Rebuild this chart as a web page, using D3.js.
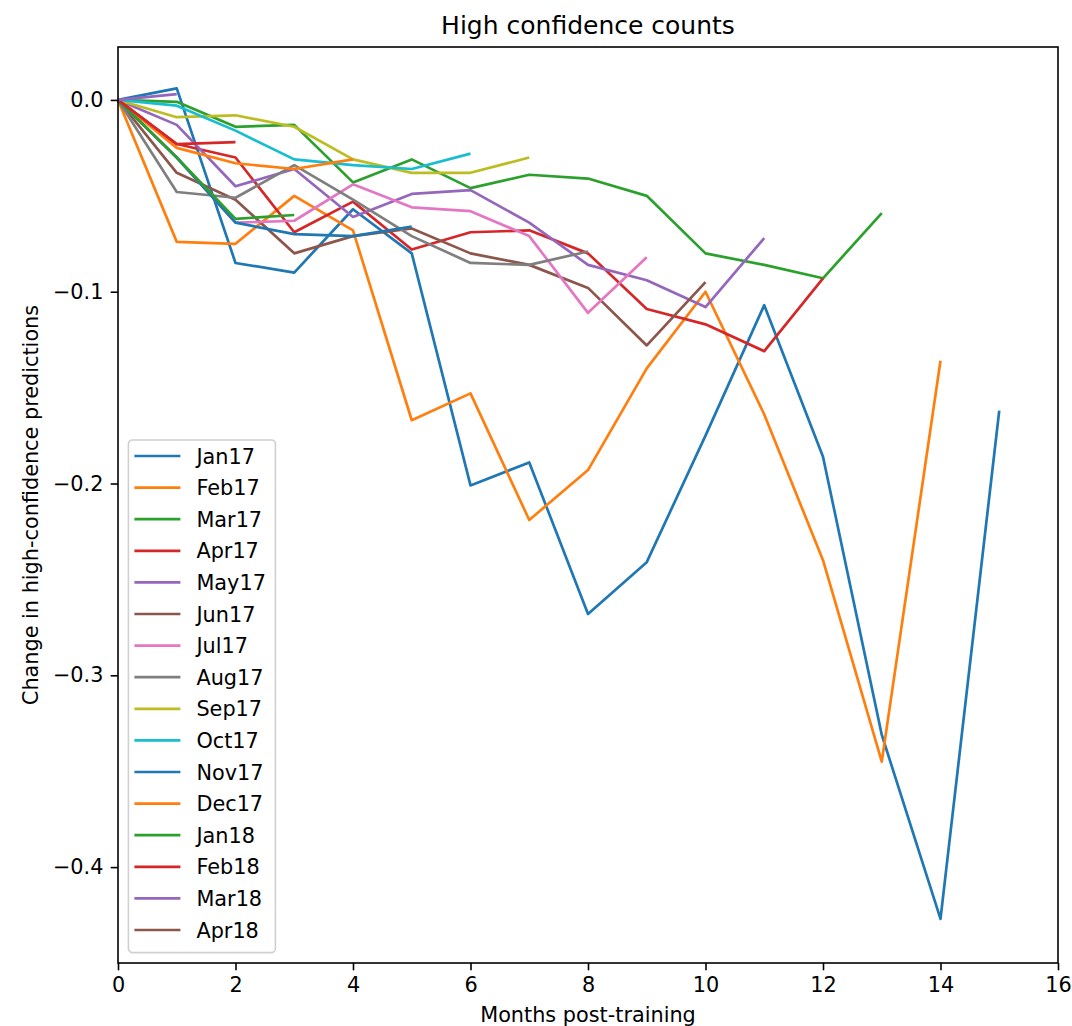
<!DOCTYPE html>
<html>
<head>
<meta charset="utf-8">
<script src="https://cdn.jsdelivr.net/npm/d3@7"></script>
<style>
  html, body { margin: 0; padding: 0; background: #fff; }
  svg { display: block; }
  text { font-family: "DejaVu Sans", sans-serif; fill: #000; }
</style>
</head>
<body>
<div id="chart"></div>
<script>
// ---- data ----
const seriesNames = ["Jan17","Feb17","Mar17","Apr17","May17","Jun17","Jul17","Aug17",
                     "Sep17","Oct17","Nov17","Dec17","Jan18","Feb18","Mar18","Apr18"];
const jan17 = [0, 0.006, -0.085, -0.090, -0.057, -0.080, -0.201, -0.189, -0.268, -0.241, -0.175, -0.107, -0.186, -0.331, -0.427, -0.162];
const feb17 = [0, -0.074, -0.075, -0.050, -0.068, -0.167, -0.153, -0.219, -0.193, -0.140, -0.100, -0.164, -0.240, -0.345, -0.136];
const mar17 = [0, -0.001, -0.014, -0.013, -0.043, -0.031, -0.046, -0.039, -0.041, -0.050, -0.080, -0.086, -0.093, -0.059];
const apr17 = [0, -0.023, -0.030, -0.069, -0.053, -0.078, -0.069, -0.068, -0.080, -0.109, -0.117, -0.131, -0.093];
const may17 = [0, -0.013, -0.045, -0.036, -0.061, -0.049, -0.047, -0.064, -0.086, -0.094, -0.108, -0.072];
const jun17 = [0, -0.038, -0.052, -0.080, -0.071, -0.067, -0.080, -0.086, -0.098, -0.128, -0.095];
const jul17 = [0, -0.030, -0.064, -0.063, -0.044, -0.056, -0.058, -0.071, -0.111, -0.082];
const aug17 = [0, -0.048, -0.051, -0.034, -0.052, -0.071, -0.085, -0.086, -0.079];
const sep17 = [0, -0.009, -0.008, -0.014, -0.031, -0.038, -0.038, -0.030];
const oct17 = [0, -0.003, -0.016, -0.031, -0.034, -0.036, -0.028];
const nov17 = [0, -0.030, -0.064, -0.070, -0.071, -0.066];
const dec17 = [0, -0.025, -0.033, -0.036, -0.031];
const jan18 = [0, -0.030, -0.062, -0.060];
const feb18 = [0, -0.023, -0.022];
const mar18 = [0, 0.003];
const apr18 = [0];
const seriesValues = [jan17, feb17, mar17, apr17, may17, jun17, jul17, aug17,
                      sep17, oct17, nov17, dec17, jan18, feb18, mar18, apr18];
const xTicks = [0, 2, 4, 6, 8, 10, 12, 14, 16];
const yTicks = [0.0, -0.1, -0.2, -0.3, -0.4];
const palette = ["#1f77b4","#ff7f0e","#2ca02c","#d62728","#9467bd",
                 "#8c564b","#e377c2","#7f7f7f","#bcbd22","#17becf"];
const titleText = "High confidence counts";
const xLabel = "Months post-training";
const yLabel = "Change in high-confidence predictions";

// ---- layout ----
const W = 1072, H = 1026;
const m = { left: 118, right: 14, top: 47, bottom: 63 };
const iw = W - m.left - m.right, ih = H - m.top - m.bottom;
const FS = 20.8;       // 10pt at 150 dpi
const TITLE_FS = 25;   // 12pt at 150 dpi
const TICK = 7.3;

const svg = d3.select("#chart").append("svg").attr("width", W).attr("height", H);
const g = svg.append("g").attr("transform", `translate(${m.left},${m.top})`);

const x = d3.scaleLinear().domain([0, 16]).range([0, iw]);
const y = d3.scaleLinear().domain([-0.4500, 0.0276]).range([ih, 0]);
const color = i => palette[i % palette.length];

const fmt = v => (v === 0 ? "0.0" : d3.format(".1f")(v).replace("-", "\u2212"));

// lines
const line = d3.line().x((d, i) => x(i)).y(d => y(d));
g.append("g")
  .selectAll("path").data(seriesValues).join("path")
  .attr("d", d => line(d))
  .attr("fill", "none")
  .attr("stroke", (d, i) => color(i))
  .attr("stroke-width", 2.7)
  .attr("stroke-linejoin", "round")
  .attr("stroke-linecap", "butt");

// axes
const xAxis = g.append("g").attr("transform", `translate(0,${ih})`)
  .call(d3.axisBottom(x).tickValues(xTicks).tickSize(TICK).tickPadding(TICK).tickFormat(d3.format("d")));
const yAxis = g.append("g")
  .call(d3.axisLeft(y).tickValues(yTicks).tickSize(TICK).tickPadding(TICK).tickFormat(fmt));
[xAxis, yAxis].forEach(a => {
  a.select(".domain").remove();
  a.selectAll(".tick line").attr("stroke", "#000").attr("stroke-width", 1.6);
  a.selectAll(".tick text").attr("font-size", FS).attr("font-family", "DejaVu Sans").attr("fill", "#111");
});

// frame
g.append("rect").attr("x", 0).attr("y", 0).attr("width", iw).attr("height", ih)
  .attr("fill", "none").attr("stroke", "#000").attr("stroke-width", 1.6);

// title and labels
svg.append("text").attr("x", m.left + iw / 2).attr("y", 34)
  .attr("text-anchor", "middle").attr("font-size", TITLE_FS).attr("fill", "#111").text(titleText);
svg.append("text").attr("x", m.left + iw / 2).attr("y", 1022)
  .attr("text-anchor", "middle").attr("font-size", FS).attr("fill", "#111").text(xLabel);
svg.append("text").attr("transform", `translate(31,${m.top + ih / 2}) rotate(-90)`)
  .attr("text-anchor", "middle").attr("dy", "0.35em").attr("font-size", FS).attr("fill", "#111").text(yLabel);

// legend
const lgLeft = 10.4, lgTop = 440 - m.top, lgBottom = ih - 10.4;
const rowH = 31.6;
const lg = g.append("g").attr("transform", `translate(${lgLeft},${lgTop})`);
lg.append("rect").attr("x", 0).attr("y", 0).attr("width", 147)
  .attr("height", lgBottom - lgTop)
  .attr("rx", 4).attr("fill", "#fff").attr("fill-opacity", 0.8)
  .attr("stroke", "#d0d0d0").attr("stroke-width", 1.6);
const items = lg.selectAll("g.item").data(seriesNames).join("g").attr("class", "item")
  .attr("transform", (d, i) => `translate(0,${16 + i * rowH})`);
items.append("line").attr("x1", 6).attr("x2", 52).attr("y1", 0).attr("y2", 0)
  .attr("stroke", (d, i) => color(i)).attr("stroke-width", 2.7);
items.append("text").attr("x", 68).attr("y", 0).attr("dy", "0.36em")
  .attr("font-size", FS).attr("fill", "#111").text(d => d);
</script>
</body>
</html>
